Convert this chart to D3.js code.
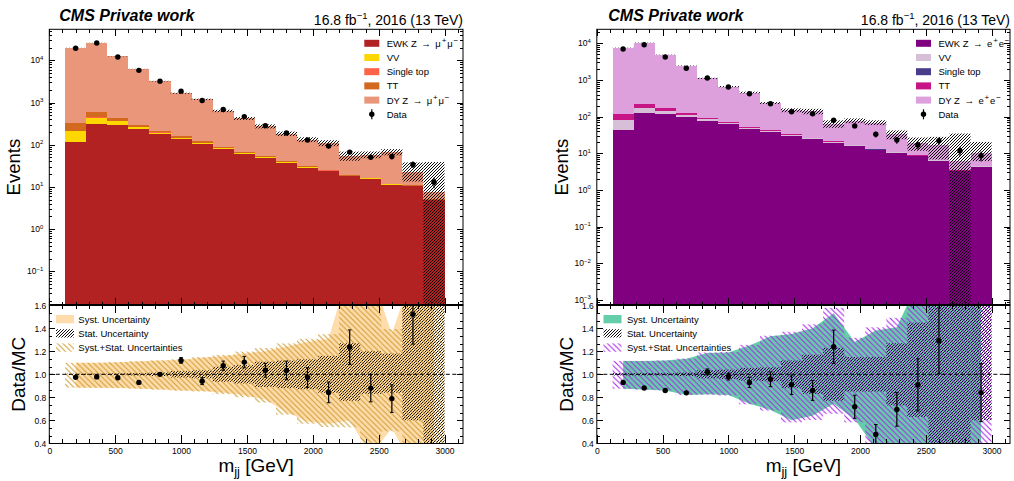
<!DOCTYPE html>
<html>
<head>
<meta charset="utf-8">
<script src="https://cdn.jsdelivr.net/npm/d3@7/dist/d3.min.js"></script>
<style>
  html, body { margin: 0; padding: 0; background: #fff; }
  svg { display: block; }
  text { font-family: "Liberation Sans", Arial, Helvetica, sans-serif; fill: #000; }
</style>
</head>
<body>
<svg id="chart" width="1014" height="481"></svg>
<script>
// ---------------------------------------------------------------
// Binning in m_jj (GeV)
const binEdges = [120, 280, 440, 600, 760, 920, 1080, 1240, 1400, 1560,
                  1720, 1880, 2040, 2200, 2360, 2520, 2680, 2840, 3000];
const xMajorTicks = [0, 500, 1000, 1500, 2000, 2500, 3000];
const ratioTicks = [0.4, 0.6, 0.8, 1.0, 1.2, 1.4, 1.6];
const processNames = ["EWK", "VV", "Single top", "TT", "DY"];

// ---------------------------------------------------------------
// Z -> mu mu channel (events per bin)
const muEWK  = [115, 304, 288, 230, 182, 136, 105, 78, 61, 48, 37, 28, 23.5, 17.9, 15.5, 11.2, 10.3, 4.9];
const muVV   = [92, 136, 75, 27, 12, 8, 6, 4, 3, 2, 1.5, 1, 0.8, 0.5, 0.4, 0.3, 0.2, 0.1];
const muTop  = [10, 15, 8, 4, 2, 1.5, 1, 0.8, 0.5, 0.4, 0.3, 0.2, 0.2, 0.1, 0.1, 0.1, 0.05, 0.02];
const muTT   = [117, 156, 61, 38, 15, 14, 8, 6, 4, 3, 2, 1.5, 1, 0.8, 0.6, 0.4, 0.3, 0.05];
const muDY   = [19470, 25790, 11940, 5920, 3000, 1500, 1068, 544, 351, 220, 142, 102, 84.5, 34.7, 41, 54.7, 11.5, 2.7];
const muData = [19300, 25800, 12000, 5780, 3210, 1860, 1117, 680, 464, 283, 189, 129, 92.7, 66.7, 50.7, 52.6, 34, 12.9];
const muDataRelErr = [0.007, 0.006, 0.009, 0.013, 0.018, 0.022, 0.032, 0.037, 0.045, 0.058, 0.078, 0.088, 0.107, 0.122, 0.136, 0.152, 0.17, 0.28];
// relative MC statistical and systematic uncertainties
const muStatUp   = [0.005, 0.005, 0.008, 0.01, 0.015, 0.028, 0.035, 0.065, 0.08, 0.11, 0.12, 0.13, 0.16, 0.27, 0.2, 0.18, 0.7, 4.0];
const muStatDown = [0.005, 0.005, 0.008, 0.01, 0.015, 0.028, 0.035, 0.065, 0.08, 0.11, 0.12, 0.13, 0.16, 0.23, 0.17, 0.16, 0.4, 1.0];
const muSystUp   = [0.10, 0.10, 0.105, 0.113, 0.12, 0.127, 0.145, 0.156, 0.18, 0.2, 0.24, 0.28, 0.31, 0.93, 0.9, 0.35, 0.9, 0.9];
const muSystDown = [0.116, 0.118, 0.12, 0.125, 0.133, 0.14, 0.145, 0.16, 0.183, 0.22, 0.33, 0.41, 0.43, 0.40, 0.7, 0.47, 0.8, 0.8];

// ---------------------------------------------------------------
// Z -> e e channel (events per bin)
const eeEWK  = [43, 126, 118, 98, 78, 62, 47, 38, 30, 24.6, 19.5, 15.9, 12.3, 10.5, 8.5, 6.2, 3.2, 4.3];
const eeVV   = [38, 43, 25, 11, 7, 4, 3, 2, 1.5, 1, 0.8, 0.6, 0.4, 0.3, 0.2, 0.2, 0.1, 0.1];
const eeTop  = [2, 3, 1.5, 1, 0.5, 0.4, 0.3, 0.2, 0.1, 0.1, 0.05, 0.05, 0.05, 0.02, 0.02, 0.02, 0.01, 0.01];
const eeTT   = [37, 52, 26, 14, 9, 5, 3, 2, 1.5, 1, 0.8, 0.5, 0.4, 0.3, 0.2, 0.1, 0.1, 0.02];
const eeDY   = [7410, 10180, 4750, 2356, 1015, 587, 402, 193, 117, 113, 43.4, 61, 56, 22, 9.7, 10.5, 2.9, 5.8];
const eeData = [7000, 9160, 4230, 2080, 1133, 645, 423, 225, 136.5, 120, 80, 56, 33, 23, 16.9, 22, 11.8, 8.6];
const eeDataRelErr = [0.012, 0.011, 0.015, 0.022, 0.025, 0.03, 0.048, 0.067, 0.093, 0.1, 0.117, 0.14, 0.18, 0.21, 0.25, 0.22, 0.29, 0.3];
const eeStatUp   = [0.01, 0.01, 0.01, 0.015, 0.035, 0.04, 0.055, 0.06, 0.12, 0.17, 0.23, 0.15, 0.15, 0.27, 0.45, 0.65, 4.5, 1.0];
const eeStatDown = [0.01, 0.01, 0.01, 0.015, 0.035, 0.04, 0.055, 0.06, 0.12, 0.17, 0.23, 0.15, 0.15, 0.27, 0.37, 0.6, 1.0, 0.4];
const eeSystUp   = [0.116, 0.116, 0.12, 0.136, 0.186, 0.19, 0.25, 0.33, 0.35, 0.40, 0.53, 0.28, 0.38, 0.41, 0.8, 0.9, 1.0, 0.9];
const eeSystDown = [0.125, 0.133, 0.14, 0.18, 0.174, 0.18, 0.255, 0.31, 0.40, 0.36, 0.255, 0.39, 0.65, 0.7, 0.75, 0.8, 0.8, 0.8];

// legend labels; ^{...} marks a superscript
const muLegendLabels = ["EWK Z \u2192 \u03bc^{+}\u03bc^{\u2212}", "VV", "Single top", "TT", "DY Z \u2192 \u03bc^{+}\u03bc^{\u2212}"];
const eeLegendLabels = ["EWK Z \u2192 e^{+}e^{\u2212}", "VV", "Single top", "TT", "DY Z \u2192 e^{+}e^{\u2212}"];

// ---------------------------------------------------------------
const FONT = "'Liberation Sans', Arial, Helvetica, sans-serif";
const TOP_Y0 = 29.3, TOP_Y1 = 305, RAT_Y0 = 305, RAT_Y1 = 443.5;

const svg = d3.select("#chart");
const defs = svg.append("defs");

function addHatch(id, dir, size, color, width) {
  const s = size;
  const d = dir === "/"
    ? `M0,${s}L${s},0M${-s/2},${s/2}L${s/2},${-s/2}M${s/2},${1.5*s}L${1.5*s},${s/2}`
    : `M0,0L${s},${s}M${-s/2},${s/2}L${s/2},${1.5*s}M${s/2},${-s/2}L${1.5*s},${s/2}`;
  defs.append("pattern").attr("id", id)
    .attr("patternUnits", "userSpaceOnUse")
    .attr("width", s).attr("height", s)
    .append("path").attr("d", d)
    .attr("stroke", color).attr("stroke-width", width).attr("fill", "none");
}
addHatch("hatchStat", "/", 3, "#000", 0.95);
addHatch("hatchComboMu", "\\", 5.5, "#cf9c34", 1.1);
addHatch("hatchComboEE", "\\", 5.5, "#a626e8", 1.1);

function supLabel(sel, base, exp, size) {
  sel.append("tspan").text(base);
  sel.append("tspan").attr("font-size", size * 0.7).attr("dy", -size * 0.42).text(exp);
}

// writes "a^{b}c" style text as tspans with raised superscripts
function richText(sel, str, size) {
  const parts = str.split(/(\^\{[^}]*\})/).filter(s => s.length);
  let raised = 0;
  parts.forEach(p => {
    if (p.startsWith("^{")) {
      const shift = -size * 0.4;
      sel.append("tspan").attr("font-size", size * 0.85).attr("dx", 0.8)
        .attr("dy", shift - raised).text(p.slice(2, -1));
      raised = shift;
    } else {
      sel.append("tspan").attr("dx", raised ? 0.8 : 0).attr("dy", -raised)
        .text(p.replace("\u2192", "\u2009\u2192\u2009"));
      raised = 0;
    }
  });
}

function drawPanel(cfg, idx) {
  const x = d3.scaleLinear().domain([0, 3140]).range([cfg.x0, cfg.x1]);
  const y = d3.scaleLog().domain(cfg.yDomain).range([TOP_Y1, TOP_Y0]);
  const r = d3.scaleLinear().domain([0.4, 1.6]).range([443.3, 305.3]);
  const W = cfg.x1 - cfg.x0;

  defs.append("clipPath").attr("id", "clipTop" + idx)
    .append("rect").attr("x", cfg.x0).attr("y", TOP_Y0).attr("width", W).attr("height", TOP_Y1 - TOP_Y0);
  defs.append("clipPath").attr("id", "clipRat" + idx)
    .append("rect").attr("x", cfg.x0).attr("y", RAT_Y0).attr("width", W).attr("height", RAT_Y1 - RAT_Y0);

  const nb = binEdges.length - 1;
  const rows = d3.range(nb).map(i => ({
    lo: binEdges[i], hi: binEdges[i + 1], c: (binEdges[i] + binEdges[i + 1]) / 2,
    "EWK": cfg.ewk[i], "VV": cfg.vv[i], "Single top": cfg.top[i], "TT": cfg.tt[i], "DY": cfg.dy[i],
    data: cfg.data[i], dErr: cfg.dataRelErr[i],
    statUp: cfg.statUp[i], statDown: cfg.statDown[i],
    systUp: cfg.systUp[i], systDown: cfg.systDown[i]
  }));
  const layers = d3.stack().keys(processNames)(rows);
  rows.forEach((row, i) => { row.total = layers[layers.length - 1][i][1]; });

  // ---------------- upper pad ----------------
  const top = svg.append("g").attr("clip-path", `url(#clipTop${idx})`);
  layers.forEach((layer, k) => {
    top.append("g").selectAll("rect").data(layer).join("rect")
      .attr("shape-rendering", "crispEdges")
      .attr("x", d => x(d.data.lo))
      .attr("width", d => x(d.data.hi) - x(d.data.lo))
      .attr("y", d => y(d[1]))
      .attr("height", d => (k === 0 ? TOP_Y1 : y(d[0])) - y(d[1]))
      .attr("fill", cfg.colors[k]);
  });
  // MC statistical band
  top.append("g").selectAll("rect").data(rows).join("rect")
    .attr("x", d => x(d.lo)).attr("width", d => x(d.hi) - x(d.lo))
    .attr("y", d => y(d.total * (1 + d.statUp)))
    .attr("height", d => (d.statDown >= 1 ? TOP_Y1 + 2 : y(d.total * (1 - d.statDown))) - y(d.total * (1 + d.statUp)))
    .attr("fill", "url(#hatchStat)");
  // data
  const dg = top.append("g");
  dg.selectAll("line").data(rows).join("line")
    .attr("x1", d => x(d.c)).attr("x2", d => x(d.c))
    .attr("y1", d => y(d.data * (1 - d.dErr))).attr("y2", d => y(d.data * (1 + d.dErr)))
    .attr("stroke", "#000").attr("stroke-width", 1.2);
  dg.selectAll("circle").data(rows).join("circle")
    .attr("cx", d => x(d.c)).attr("cy", d => y(d.data)).attr("r", 2.7).attr("fill", "#000");

  // ---------------- ratio pad ----------------
  const rat = svg.append("g").attr("clip-path", `url(#clipRat${idx})`);
  const systArea = d3.area()
    .x(d => x(d.c))
    .y0(d => r(1 - d.systDown))
    .y1(d => r(1 + d.systUp));
  rat.append("path").datum(rows).attr("d", systArea).attr("fill", cfg.systColor);
  rat.append("g").selectAll("rect").data(rows).join("rect")
    .attr("x", d => x(d.lo)).attr("width", d => x(d.hi) - x(d.lo))
    .attr("y", d => r(1 + d.statUp))
    .attr("height", d => r(1 - d.statDown) - r(1 + d.statUp))
    .attr("fill", "url(#hatchStat)");
  rat.append("g").selectAll("rect").data(rows).join("rect")
    .attr("x", d => x(d.lo)).attr("width", d => x(d.hi) - x(d.lo))
    .attr("y", d => r(1 + Math.hypot(d.systUp, d.statUp)))
    .attr("height", d => r(1 - Math.hypot(d.systDown, d.statDown)) - r(1 + Math.hypot(d.systUp, d.statUp)))
    .attr("fill", `url(#${cfg.comboHatch})`);
  rat.append("line")
    .attr("x1", x(0)).attr("x2", x(3140)).attr("y1", r(1)).attr("y2", r(1))
    .attr("stroke", "#000").attr("stroke-width", 1).attr("stroke-dasharray", "4,2.5");
  const ratioRows = rows.map(d => ({ c: d.c, v: d.data / d.total, e: d.dErr * d.data / d.total }))
    .filter(d => d.v >= 0.4 && d.v <= 1.6);
  const rg = rat.append("g");
  rg.selectAll("line.bar").data(ratioRows).join("line").attr("class", "bar")
    .attr("x1", d => x(d.c)).attr("x2", d => x(d.c))
    .attr("y1", d => r(d.v - d.e)).attr("y2", d => r(d.v + d.e))
    .attr("stroke", "#000").attr("stroke-width", 1.2);
  [-1, 1].forEach(s => {
    rg.selectAll(null).data(ratioRows.filter(d => d.e > 0.02)).join("line")
      .attr("x1", d => x(d.c) - 1.8).attr("x2", d => x(d.c) + 1.8)
      .attr("y1", d => r(d.v + s * d.e)).attr("y2", d => r(d.v + s * d.e))
      .attr("stroke", "#000").attr("stroke-width", 1);
  });
  rg.selectAll("circle").data(ratioRows).join("circle")
    .attr("cx", d => x(d.c)).attr("cy", d => r(d.v)).attr("r", 2.7).attr("fill", "#000");

  // ---------------- axes ----------------
  const tidy = g => {
    g.select(".domain").remove();
    g.attr("font-family", FONT).attr("font-size", 8.5);
    g.selectAll("line").attr("stroke", "#000").attr("stroke-width", 1).attr("shape-rendering", "crispEdges");
  };
  const lmin = Math.log10(cfg.yDomain[0]), lmax = Math.log10(cfg.yDomain[1]);
  const logMajor = d3.range(Math.ceil(lmin), Math.floor(lmax) + 1);
  const logMinor = [];
  for (let k = Math.floor(lmin); k <= Math.floor(lmax); k++) {
    for (let m = 2; m <= 9; m++) {
      const v = m * Math.pow(10, k);
      if (v > cfg.yDomain[0] && v < cfg.yDomain[1]) logMinor.push(v);
    }
  }
  const majVals = logMajor.map(k => Math.pow(10, k));
  const xMinor = d3.range(0, 3140, 100).filter(v => v % 500 !== 0);
  const rMinor = d3.range(0.4, 1.6001, 0.2 / 3).filter(v => Math.abs((v - 0.4) / 0.2 - Math.round((v - 0.4) / 0.2)) > 0.01);

  // upper pad ticks
  svg.append("g").attr("transform", `translate(${cfg.x0},0)`)
    .call(d3.axisLeft(y).tickValues(majVals).tickSize(-6).tickFormat("")).call(tidy);
  svg.append("g").attr("transform", `translate(${cfg.x0},0)`)
    .call(d3.axisLeft(y).tickValues(logMinor).tickSize(-3).tickFormat("")).call(tidy);
  svg.append("g").attr("transform", `translate(${cfg.x1},0)`)
    .call(d3.axisRight(y).tickValues(majVals).tickSize(-6).tickFormat("")).call(tidy);
  svg.append("g").attr("transform", `translate(${cfg.x1},0)`)
    .call(d3.axisRight(y).tickValues(logMinor).tickSize(-3).tickFormat("")).call(tidy);
  svg.append("g").attr("transform", `translate(0,${TOP_Y0})`)
    .call(d3.axisTop(x).tickValues(xMajorTicks).tickSize(-7).tickFormat("")).call(tidy);
  svg.append("g").attr("transform", `translate(0,${TOP_Y0})`)
    .call(d3.axisTop(x).tickValues(xMinor).tickSize(-3.5).tickFormat("")).call(tidy);
  svg.append("g").attr("transform", `translate(0,${TOP_Y1})`)
    .call(d3.axisBottom(x).tickValues(xMajorTicks).tickSize(-7).tickFormat("")).call(tidy);
  svg.append("g").attr("transform", `translate(0,${TOP_Y1})`)
    .call(d3.axisBottom(x).tickValues(xMinor).tickSize(-3.5).tickFormat("")).call(tidy);
  // log labels
  const ll = svg.append("g").attr("font-family", FONT).attr("font-size", 8.5);
  logMajor.forEach(k => {
    const t = ll.append("text").attr("text-anchor", "end")
      .attr("x", cfg.x0 - 6).attr("y", y(Math.pow(10, k)) + 3);
    supLabel(t, "10", k < 0 ? "\u2212" + (-k) : String(k), 8.5);
  });

  // ratio pad ticks
  svg.append("g").attr("transform", `translate(${cfg.x0},0)`)
    .call(d3.axisLeft(r).tickValues(ratioTicks).tickSize(-6).tickPadding(3).tickFormat(d3.format(".1f"))).call(tidy);
  svg.append("g").attr("transform", `translate(${cfg.x0},0)`)
    .call(d3.axisLeft(r).tickValues(rMinor).tickSize(-3).tickFormat("")).call(tidy);
  svg.append("g").attr("transform", `translate(${cfg.x1},0)`)
    .call(d3.axisRight(r).tickValues(ratioTicks).tickSize(-6).tickFormat("")).call(tidy);
  svg.append("g").attr("transform", `translate(${cfg.x1},0)`)
    .call(d3.axisRight(r).tickValues(rMinor).tickSize(-3).tickFormat("")).call(tidy);
  svg.append("g").attr("transform", `translate(0,${RAT_Y0})`)
    .call(d3.axisTop(x).tickValues(xMajorTicks).tickSize(-8).tickFormat("")).call(tidy);
  svg.append("g").attr("transform", `translate(0,${RAT_Y0})`)
    .call(d3.axisTop(x).tickValues(xMinor).tickSize(-4).tickFormat("")).call(tidy);
  svg.append("g").attr("transform", `translate(0,${RAT_Y1})`)
    .call(d3.axisBottom(x).tickValues(xMajorTicks).tickSize(-9).tickPadding(4).tickFormat(d3.format("d"))).call(tidy);
  svg.append("g").attr("transform", `translate(0,${RAT_Y1})`)
    .call(d3.axisBottom(x).tickValues(xMinor).tickSize(-4.5).tickFormat("")).call(tidy);

  // frames
  svg.append("rect").attr("x", cfg.x0).attr("y", TOP_Y0).attr("width", W).attr("height", TOP_Y1 - TOP_Y0)
    .attr("fill", "none").attr("stroke", "#000").attr("stroke-width", 1);
  svg.append("rect").attr("x", cfg.x0).attr("y", RAT_Y0).attr("width", W).attr("height", RAT_Y1 - RAT_Y0)
    .attr("fill", "none").attr("stroke", "#000").attr("stroke-width", 1);
  svg.append("line").attr("x1", cfg.x0).attr("x2", cfg.x1).attr("y1", RAT_Y0).attr("y2", RAT_Y0)
    .attr("stroke", "#000").attr("stroke-width", 2);

  // ---------------- titles ----------------
  svg.append("text").attr("x", cfg.x0 + cfg.cmsDx).attr("y", 21)
    .attr("font-size", 16).attr("font-weight", "bold").attr("font-style", "italic")
    .text("CMS Private work");
  const lumi = svg.append("text").attr("x", cfg.x1).attr("y", 24.5).attr("text-anchor", "end").attr("font-size", 14);
  lumi.append("tspan").text("16.8 fb");
  lumi.append("tspan").attr("font-size", 9.5).attr("dy", -6).text("\u22121");
  lumi.append("tspan").attr("dy", 6).text(", 2016 (13 TeV)");

  svg.append("text").attr("transform", `translate(${cfg.x0 - 29.3},${(TOP_Y0 + TOP_Y1) / 2}) rotate(-90)`)
    .attr("text-anchor", "middle").attr("font-size", 18.5).text("Events");
  svg.append("text").attr("transform", `translate(${cfg.x0 - 24.3},${(RAT_Y0 + RAT_Y1) / 2}) rotate(-90)`)
    .attr("text-anchor", "middle").attr("font-size", 19).text("Data/MC");
  const xt = svg.append("text").attr("x", (cfg.x0 + cfg.x1) / 2).attr("y", 471.7)
    .attr("text-anchor", "middle").attr("font-size", 19);
  xt.append("tspan").text("m");
  xt.append("tspan").attr("font-size", 13).attr("dy", 4).text("jj");
  xt.append("tspan").attr("dy", -4).text(" [GeV]");

  // ---------------- legends ----------------
  const lg = svg.append("g").attr("font-family", FONT).attr("font-size", 9.5);
  const rowY = i => 43.3 + i * 14.2;
  cfg.legendLabels.forEach((lab, i) => {
    lg.append("rect").attr("x", cfg.legX).attr("y", rowY(i) - 3.5).attr("width", 15).attr("height", 7)
      .attr("fill", cfg.colors[i]);
    const t = lg.append("text").attr("x", cfg.legX + 22.4).attr("y", rowY(i) + 3.4);
    richText(t, lab, 9.5);
  });
  const dataRowY = rowY(cfg.legendLabels.length);
  lg.append("line").attr("x1", cfg.legX + 7.5).attr("x2", cfg.legX + 7.5)
    .attr("y1", dataRowY - 5).attr("y2", dataRowY + 5).attr("stroke", "#000").attr("stroke-width", 1.2);
  lg.append("circle").attr("cx", cfg.legX + 7.5).attr("cy", dataRowY).attr("r", 2.7).attr("fill", "#000");
  lg.append("text").attr("x", cfg.legX + 22.4).attr("y", dataRowY + 3.4).text("Data");

  const rl = svg.append("g").attr("font-family", FONT).attr("font-size", 9.5);
  const rlx = cfg.x0 + 6.7;
  const ratioLegend = [
    { fill: cfg.systColor, label: "Syst. Uncertainty" },
    { fill: "url(#hatchStat)", label: "Stat. Uncertainty" },
    { fill: `url(#${cfg.comboHatch})`, label: "Syst.+Stat. Uncertainties" }
  ];
  ratioLegend.forEach((e, i) => {
    const by = 322.7 + i * 14.2;
    rl.append("rect").attr("x", rlx).attr("y", by - 7.7).attr("width", 18).attr("height", 8.3).attr("fill", e.fill);
    rl.append("text").attr("x", rlx + cfg.ratLegTextDx).attr("y", by).text(e.label);
  });
}

const panels = [
  {
    x0: 49.3, x1: 463, yDomain: [Math.pow(10, -1.799), Math.pow(10, 4.735)],
    ewk: muEWK, vv: muVV, top: muTop, tt: muTT, dy: muDY,
    data: muData, dataRelErr: muDataRelErr,
    statUp: muStatUp, statDown: muStatDown, systUp: muSystUp, systDown: muSystDown,
    colors: ["#b22222", "#ffd700", "#ff6347", "#d2691e", "#e9967a"],
    systColor: "#fedcab", comboHatch: "hatchComboMu",
    legendLabels: muLegendLabels,
    legX: 364.3, cmsDx: 10, ratLegTextDx: 22.3
  },
  {
    x0: 596.8, x1: 1010, yDomain: [Math.pow(10, -3.136), Math.pow(10, 4.382)],
    ewk: eeEWK, vv: eeVV, top: eeTop, tt: eeTT, dy: eeDY,
    data: eeData, dataRelErr: eeDataRelErr,
    statUp: eeStatUp, statDown: eeStatDown, systUp: eeSystUp, systDown: eeSystDown,
    colors: ["#800080", "#d8bfd8", "#483d8b", "#c71585", "#dda0dd"],
    systColor: "#66cdaa", comboHatch: "hatchComboEE",
    legendLabels: eeLegendLabels,
    legX: 916, cmsDx: 11.5, ratLegTextDx: 23.4
  }
];
panels.forEach(drawPanel);
</script>
</body>
</html>
